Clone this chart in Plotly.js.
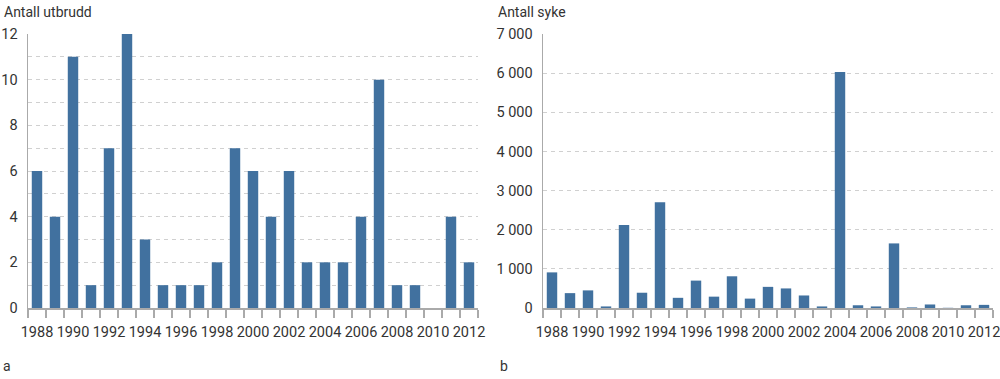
<!DOCTYPE html>
<html>
<head>
<meta charset="utf-8">
<script src="https://cdn.plot.ly/plotly-3.0.1.min.js"></script>
<style>
html,body{margin:0;padding:0;background:#fff;}
#chart{width:1000px;height:379px;}
</style>
</head>
<body>
<div id="chart"></div>
<script>
const years = [1988,1989,1990,1991,1992,1993,1994,1995,1996,1997,1998,1999,2000,2001,2002,2003,2004,2005,2006,2007,2008,2009,2010,2011,2012];
const outbreaks = [6,4,11,1,7,12,3,1,1,1,2,7,6,4,6,2,2,2,4,10,1,1,0,4,2];
const sick = [910,380,450,40,2120,390,2700,260,700,290,810,240,540,500,320,40,6030,70,40,1650,15,90,5,70,80];
const titleLeft = "Antall utbrudd";
const titleRight = "Antall syke";
const panelLabels = ["a","b"];

const barColor = "#41719f";
const tickFont = {family: "Roboto, sans-serif", size: 14.5, color: "#333"};
const textFont = {family: "Roboto, sans-serif", size: 14, color: "#333"};
const gridColor = "#d0d0d0";
const axisColor = "#aaaaaa";

const traces = [
  {type:"bar", x: years, y: outbreaks, xaxis:"x", yaxis:"y", width:0.58,
   marker:{color:barColor}, hoverinfo:"x+y"},
  {type:"bar", x: years, y: sick, xaxis:"x2", yaxis:"y2", width:0.58,
   marker:{color:barColor}, hoverinfo:"x+y"}
];

function xAxis(domain, anchor){
  return {
    domain: domain, anchor: anchor, range:[1987.5, 2012.5],
    showgrid:false, zeroline:false, showline:true, linecolor:axisColor, linewidth:1.5,
    tickmode:"linear", tick0:1988, dtick:2, ticks:"", ticklen:0, tickangle:0,
    tickfont: tickFont, ticklabelstandoff: 10, ticklabeloverflow:"allow",
    minor:{tickmode:"linear", tick0:1987.5, dtick:1, ticks:"outside", ticklen:8, tickcolor:axisColor, tickwidth:1.2, showgrid:false},
    fixedrange:true
  };
}
const yDomain = [1-308/379, 1-34/379];

const layout = {
  width:1000, height:379,
  margin:{l:0,r:0,t:0,b:0},
  paper_bgcolor:"#fff", plot_bgcolor:"#fff",
  showlegend:false,
  separators:". ",
  xaxis: xAxis([0.028,0.478], "y"),
  xaxis2: xAxis([0.543,0.993], "y2"),
  yaxis: {
    domain: yDomain, anchor:"x", range:[0,12],
    tickmode:"linear", tick0:0, dtick:2,
    showgrid:true, gridcolor:gridColor, griddash:"4px,4px", gridwidth:1,
    minor:{tickmode:"linear", tick0:0, dtick:1, showgrid:true, gridcolor:gridColor, griddash:"4px,4px", gridwidth:1},
    zeroline:false, showline:true, linecolor:axisColor, linewidth:1.5,
    ticks:"", tickfont: tickFont, ticklabelstandoff: 6, fixedrange:true
  },
  yaxis2: {
    domain: yDomain, anchor:"x2", range:[0,7000],
    tickmode:"linear", tick0:0, dtick:1000,
    showgrid:true, gridcolor:gridColor, griddash:"4px,4px", gridwidth:1,
    separatethousands:true, tickformat:",d",
    zeroline:false, showline:true, linecolor:axisColor, linewidth:1.5,
    ticks:"", tickfont: tickFont, ticklabelstandoff: 6, fixedrange:true
  },
  annotations:[
    {text:titleLeft, xref:"paper", yref:"paper", x:0.002, y:1-12/379, xanchor:"left", yanchor:"middle", showarrow:false, font:textFont},
    {text:titleRight, xref:"paper", yref:"paper", x:0.496, y:1-12/379, xanchor:"left", yanchor:"middle", showarrow:false, font:textFont},
    {text:panelLabels[0], xref:"paper", yref:"paper", x:0.001, y:1-366/379, xanchor:"left", yanchor:"middle", showarrow:false, font:textFont},
    {text:panelLabels[1], xref:"paper", yref:"paper", x:0.498, y:1-366/379, xanchor:"left", yanchor:"middle", showarrow:false, font:textFont}
  ]
};

Plotly.newPlot("chart", traces, layout, {displayModeBar:false, staticPlot:true});
</script>
</body>
</html>
